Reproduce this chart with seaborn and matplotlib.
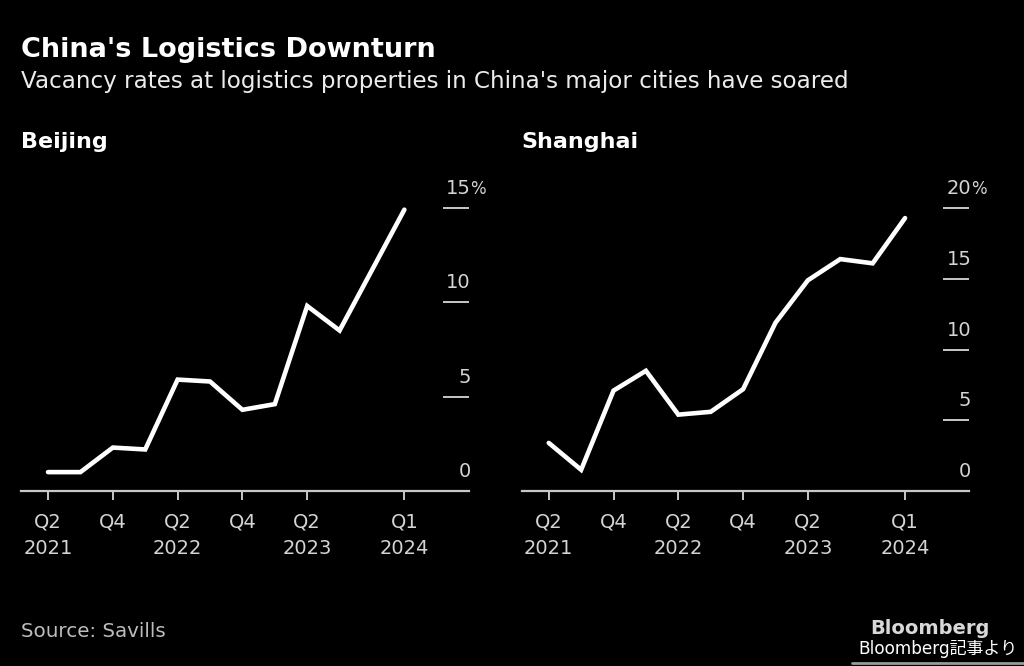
import numpy as np
import pandas as pd
import matplotlib.pyplot as plt
import matplotlib.transforms as mtransforms
import seaborn as sns

# Vacancy rates (%)
quarters = ["Q2 2021", "Q3 2021", "Q4 2021", "Q1 2022", "Q2 2022", "Q3 2022",
            "Q4 2022", "Q1 2023", "Q2 2023", "Q3 2023", "Q4 2023", "Q1 2024"]
beijing = [1.0, 1.0, 2.3, 2.2, 5.9, 5.8, 4.3, 4.6, 9.8, 8.5, 11.7, 14.9]
shanghai = [3.4, 1.5, 7.1, 8.5, 5.4, 5.6, 7.2, 11.9, 14.9, 16.4, 16.1, 19.3]

tick_quarters = ["Q2 2021", "Q4 2021", "Q2 2022", "Q4 2022", "Q2 2023", "Q1 2024"]
tick_labels = ["Q2\n2021", "Q4", "Q2\n2022", "Q4", "Q2\n2023", "Q1\n2024"]
beijing_ticks = [0, 5, 10, 15]
shanghai_ticks = [0, 5, 10, 15, 20]

df = pd.DataFrame({
    'quarter': quarters,
    'pos': np.arange(len(quarters)),
    'Beijing': beijing,
    'Shanghai': shanghai,
})

sns.set_style('dark', {'axes.facecolor': 'black', 'figure.facecolor': 'black'})
plt.rcParams['font.family'] = ['DejaVu Sans', 'Noto Sans CJK JP']

W, H = 1024, 666
fig = plt.figure(figsize=(W / 100, H / 100), dpi=100, facecolor='black')

GREY = '#c8c8c8'


def px(x, y):
    return x / W, 1 - y / H


panels = [
    ('Beijing', beijing_ticks, 17.0, 21),
    ('Shanghai', shanghai_ticks, 22.7, 521.7),
]

for city, yticks, ytop, left in panels:
    ax = fig.add_axes([left / W, (H - 491) / H, 447.5 / W, 321 / H])
    ax.set_facecolor('black')
    sns.lineplot(x='pos', y=city, data=df, ax=ax, color='white',
                 linewidth=3.3, solid_joinstyle='miter')

    ax.set_xlim(-0.835, 12.98)
    ax.set_ylim(0, ytop)
    ax.set_xlabel('')
    ax.set_ylabel('')
    ax.grid(False)

    for s in ['left', 'top', 'right']:
        ax.spines[s].set_visible(False)
    ax.spines['bottom'].set_color(GREY)
    ax.spines['bottom'].set_linewidth(1.6)

    ax.set_xticks([quarters.index(q) for q in tick_quarters])
    ax.set_xticklabels(tick_labels, linespacing=1.5)
    ax.tick_params(axis='x', direction='out', length=6.5, width=1.4,
                   color=GREY, labelcolor='#d4d4d4', labelsize=14, pad=9,
                   bottom=True)

    # short "gridlines" at the right edge, Bloomberg style
    ax.yaxis.tick_right()
    ax.set_yticks([t for t in yticks if t > 0])
    ax.tick_params(axis='y', direction='in', length=19, width=1.4,
                   color=GREY, labelright=False, right=True)

    trans = mtransforms.blended_transform_factory(ax.transAxes, ax.transData)
    trans = mtransforms.offset_copy(trans, fig=fig, x=1.5, y=10, units='points')
    for t in yticks:
        ax.text(1.0, t, str(t), transform=trans, ha='right', va='baseline',
                color='#d4d4d4', fontsize=14)
    ax.text(1.0, yticks[-1], '%', transform=trans, ha='left', va='baseline',
            color='#d4d4d4', fontsize=12)

    fig.text(*px(left, 148), city, color='white', fontsize=16,
             fontweight='bold', ha='left', va='baseline')

fig.text(*px(21, 57), "China's Logistics Downturn", color='white',
         fontsize=19.5, fontweight='bold', ha='left', va='baseline')
fig.text(*px(21, 88),
         "Vacancy rates at logistics properties in China's major cities have soared",
         color='#ececec', fontsize=16.6, ha='left', va='baseline')

fig.text(*px(21, 637), 'Source: Savills', color='#bdbdbd', fontsize=14.3,
         ha='left', va='baseline')
fig.text(*px(990, 634), 'Bloomberg', color='#d8d8d8', fontsize=14,
         fontweight='bold', ha='right', va='baseline')
fig.text(*px(1018, 654), 'Bloomberg記事より', color='white', fontsize=12.2,
         ha='right', va='baseline')
fig.add_artist(plt.Line2D([852 / W, 1], [1 - 663 / H, 1 - 663 / H],
                          color='#9a9a9a', linewidth=2,
                          transform=fig.transFigure))

fig.savefig('out.png', dpi=100, facecolor='black')
